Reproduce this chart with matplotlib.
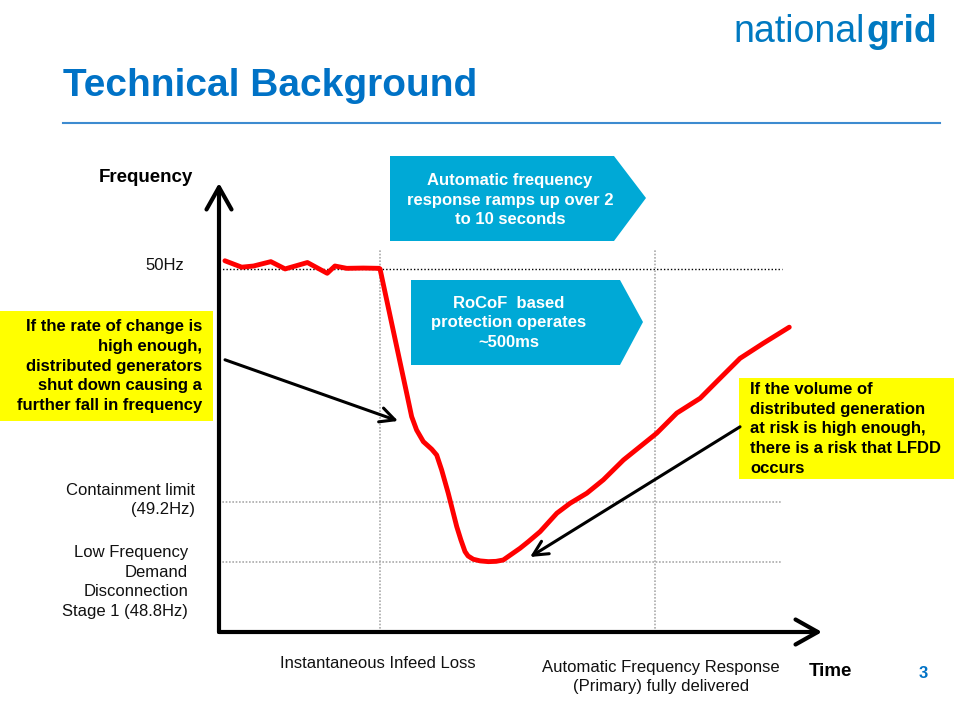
import numpy as np
import matplotlib.pyplot as plt
from matplotlib.patches import Polygon, Rectangle

plt.rcParams['font.family'] = ['Liberation Sans', 'DejaVu Sans']

# schematic frequency trace: seconds after the infeed loss, Hz
time_s = [-5.64, -5.03, -4.60, -3.97, -3.45, -2.64, -1.92, -1.64, -1.21, -0.61, -0.03,
          0.0, 0.97, 1.15, 1.33, 1.575, 1.88, 2.06, 2.24, 2.48, 2.79, 2.94, 3.09, 3.2,
          3.39, 3.64, 3.94, 4.22, 4.48, 5.09, 5.39, 5.82, 6.43, 6.91, 7.52, 8.12, 8.85,
          10.06, 10.79, 11.64, 12.24, 13.09, 13.94, 14.88]
freq_hz = [50.028, 50.006, 50.010, 50.025, 50.000, 50.022, 49.985, 50.010, 50.002, 50.003, 50.002,
           50.000, 49.573, 49.493, 49.447, 49.407, 49.381, 49.361, 49.310, 49.230, 49.035, 48.947,
           48.869, 48.840, 48.818, 48.807, 48.802, 48.804, 48.813, 48.891, 48.935, 49.002, 49.125,
           49.191, 49.230, 49.276, 49.344, 49.436, 49.505, 49.556, 49.613, 49.693, 49.745, 49.800]

levels_hz = [50.0, 49.2, 48.8]
level_labels = ['50Hz', 'Containment limit\n(49.2Hz)',
                'Low Frequency\nDemand\nDisconnection\nStage 1 (48.8Hz)']
events_s = [0.0, 10.0]
event_labels = ['Instantaneous Infeed Loss',
                'Automatic Frequency Response\n(Primary) fully delivered']

BLUE = '#0072c6'
CYAN = '#00a9d6'
YELLOW = '#ffff00'
LS = 1.39


# the slide's frequency axis is not linear: stretch above 49.2Hz
def fwd(f):
    f = np.asarray(f, dtype=float)
    return np.where(f >= 49.2, 60 + (f - 49.2) * 291.25, 60 + (f - 49.2) * 150)


def inv(h):
    h = np.asarray(h, dtype=float)
    return np.where(h >= 60, 49.2 + (h - 60) / 291.25, 49.2 + (h - 60) / 150)


fig = plt.figure(figsize=(9.55, 7.01), dpi=100)

# slide background in pixel coordinates
bg = fig.add_axes([0, 0, 1, 1])
bg.set_xlim(0, 955)
bg.set_ylim(701, 0)
bg.axis('off')

bg.text(865, 32, 'national', color='#0079c1', fontsize=27, ha='right', va='center')
bg.text(866, 32, 'grid', color='#0079c1', fontsize=27, fontweight='bold', ha='left', va='center')
bg.text(63, 86, 'Technical Background', color=BLUE, fontsize=28, fontweight='bold',
        ha='left', va='center')
bg.plot([63, 940], [123, 123], color='#3d8bd0', lw=1.5)

# blue chevrons
bg.add_patch(Polygon([(390, 156), (614, 156), (646, 198), (614, 241), (390, 241)],
                     closed=True, facecolor=CYAN, edgecolor='none'))
bg.text(510, 200, 'Automatic frequency\nresponse ramps up over 2\nto 10 seconds',
        color='white', fontsize=12, fontweight='bold', ha='center', va='center', linespacing=LS)
bg.add_patch(Polygon([(411, 280), (620, 280), (643, 322), (620, 365), (411, 365)],
                     closed=True, facecolor=CYAN, edgecolor='none'))
bg.text(509, 323, 'RoCoF  based\nprotection operates\n~500ms',
        color='white', fontsize=12, fontweight='bold', ha='center', va='center', linespacing=LS)

# yellow call-outs
bg.add_patch(Rectangle((0, 311), 213, 110, facecolor=YELLOW, edgecolor='none'))
bg.text(202, 366, 'If the rate of change is\nhigh enough,\ndistributed generators\n'
        'shut down causing a\nfurther fall in frequency',
        fontsize=12, fontweight='bold', ha='right', va='center', linespacing=LS)
bg.add_patch(Rectangle((739, 378), 215, 101, facecolor=YELLOW, edgecolor='none'))
bg.text(750, 429, 'If the volume of\ndistributed generation\nat risk is high enough,\n'
        'there is a risk that LFDD\noccurs',
        fontsize=12, fontweight='bold', ha='left', va='center', linespacing=LS)

# axis labels and level labels
bg.text(193, 178, 'Frequency', fontsize=13.5, fontweight='bold', ha='right', va='center')
bg.text(809, 671, 'Time', fontsize=13.5, fontweight='bold', ha='left', va='center')
bg.text(923, 674, '3', color=BLUE, fontsize=12, fontweight='bold', ha='center', va='center')
label_x = [184, 195, 188]
label_y = [265, 500, 582]
for lab, lx, ly in zip(level_labels, label_x, label_y):
    bg.text(lx, ly, lab, fontsize=12, ha='right', va='center', linespacing=LS, color='#111111')
event_x = [378, 661]
event_y = [664, 677]
for lab, ex, ey in zip(event_labels, event_x, event_y):
    bg.text(ex, ey, lab, fontsize=12, ha='center', va='center', linespacing=LS, color='#111111')

# chart axes
t_min, t_max = -5.855, 16.07
f_min, f_max = 48.333, 50.295
ax = fig.add_axes([219 / 955, 69 / 701, 603 / 955, 449 / 701])
ax.set_facecolor('none')
ax.set_yscale('function', functions=(fwd, inv))
ax.set_xlim(t_min, t_max)
ax.set_ylim(f_min, f_max)
ax.set_xticks([])
ax.set_yticks([])
ax.minorticks_off()
for s in ax.spines.values():
    s.set_visible(False)

line_end = 14.62
ax.plot([t_min, line_end], [levels_hz[0]] * 2, color='black', lw=1, ls=(0, (1, 1.5)))
for lv in levels_hz[1:]:
    ax.plot([t_min, line_end], [lv, lv], color='#aaaaaa', lw=1.2, ls=(0, (1, 1)))
for ev in events_s:
    ax.plot([ev, ev], [f_min, 50.07], color='#aaaaaa', lw=1.2, ls=(0, (1, 1)))

ax.plot(time_s, freq_hz, color='#ff0000', lw=3.5, solid_joinstyle='round',
        solid_capstyle='round', zorder=5)

axis_arrow = dict(arrowstyle='->,head_length=0.8,head_width=0.45', lw=3, color='black',
                  mutation_scale=20, shrinkA=0, shrinkB=0)
ax.annotate('', xy=(t_max, f_min), xytext=(t_min, f_min), arrowprops=axis_arrow,
            annotation_clip=False)
ax.annotate('', xy=(t_min, f_max), xytext=(t_min, f_min), arrowprops=axis_arrow,
            annotation_clip=False)

pointer = dict(arrowstyle='->,head_length=0.7,head_width=0.35', lw=2.2, color='black',
               mutation_scale=15, shrinkA=0, shrinkB=0)
ax.annotate('', xy=(0.655, 49.478), xytext=(-5.636, 49.688), arrowprops=pointer,
            annotation_clip=False)
ax.annotate('', xy=(5.455, 48.833), xytext=(13.09, 49.458), arrowprops=pointer,
            annotation_clip=False)

plt.savefig('out.png', dpi=100)
